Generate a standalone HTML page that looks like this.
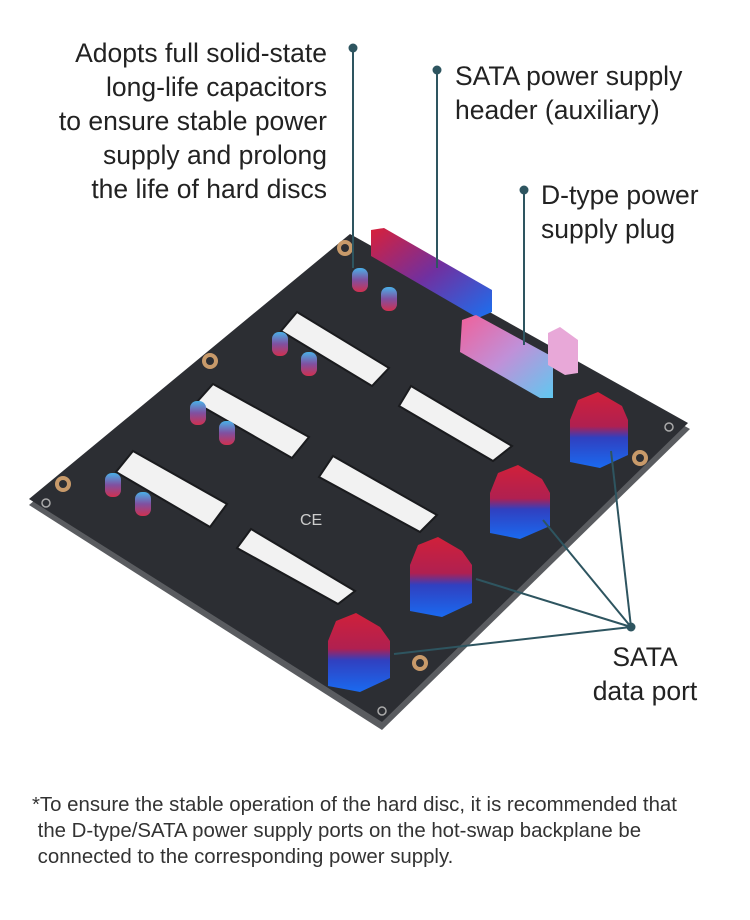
<!DOCTYPE html>
<html><head><meta charset="utf-8"><style>
html,body{margin:0;padding:0;background:#fff;}
body{width:750px;height:920px;position:relative;overflow:hidden;font-family:"Liberation Sans",sans-serif;}
.t{position:absolute;color:#222;font-size:26.5px;line-height:34px;white-space:nowrap;}
.fn{position:absolute;left:32px;top:792px;color:#333;font-size:20.4px;line-height:26px;white-space:nowrap;}
</style></head><body>
<svg width="750" height="920" style="position:absolute;left:0;top:0">
<defs>
<linearGradient id="rb" x1="0" y1="0" x2="0" y2="1"><stop offset="0" stop-color="#d0203a"/><stop offset="0.45" stop-color="#b02050"/><stop offset="0.6" stop-color="#3040c0"/><stop offset="1" stop-color="#1a6af0"/></linearGradient>
<linearGradient id="ph" x1="0" y1="0" x2="1" y2="1"><stop offset="0" stop-color="#d8203a"/><stop offset="0.5" stop-color="#7030a0"/><stop offset="1" stop-color="#1a70f0"/></linearGradient>
<linearGradient id="mx" x1="0" y1="0" x2="1" y2="1"><stop offset="0" stop-color="#f0609a"/><stop offset="0.5" stop-color="#c090d8"/><stop offset="1" stop-color="#60c8f0"/></linearGradient>
<linearGradient id="cap" x1="0" y1="0" x2="0" y2="1"><stop offset="0" stop-color="#4ab0e8"/><stop offset="0.5" stop-color="#8050a0"/><stop offset="1" stop-color="#d03050"/></linearGradient>
</defs>
<polygon points="350,240 690,429 382,730 29,505" fill="#5a5c60"/>
<polygon points="350,234 688,423 382,722 29,499" fill="#2c2e33"/>
<g fill="#f2f2f2" stroke="#1a1b1e" stroke-width="2">
<polygon points="297,312 389,368 372,386 281,331"/>
<polygon points="213,384 309,437 292,458 196,403"/>
<polygon points="133,451 227,504 210,527 116,472"/>
<polygon points="411,386 512,446 493,461 399,406"/>
<polygon points="333,456 437,515 420,532 319,477"/>
<polygon points="251,529 355,591 338,604 237,548"/>
</g>
<g fill="#c89a6a"><circle cx="345" cy="248" r="8"/><circle cx="210" cy="361" r="8"/><circle cx="63" cy="484" r="8"/><circle cx="640" cy="458" r="8"/><circle cx="420" cy="663" r="8"/></g>
<g fill="#2c2e33"><circle cx="345" cy="248" r="4"/><circle cx="210" cy="361" r="4"/><circle cx="63" cy="484" r="4"/><circle cx="640" cy="458" r="4"/><circle cx="420" cy="663" r="4"/></g>
<g fill="none" stroke="#aaa" stroke-width="1.5"><circle cx="669" cy="427" r="4"/><circle cx="46" cy="503" r="4"/><circle cx="382" cy="711" r="4"/></g>
<text x="300" y="525" fill="#ccc" font-size="16">CE</text>
<g fill="url(#cap)">
<rect x="352" y="268" width="16" height="24" rx="7"/><rect x="381" y="287" width="16" height="24" rx="7"/>
<rect x="272" y="332" width="16" height="24" rx="7"/><rect x="301" y="352" width="16" height="24" rx="7"/>
<rect x="190" y="401" width="16" height="24" rx="7"/><rect x="219" y="421" width="16" height="24" rx="7"/>
<rect x="105" y="473" width="16" height="24" rx="7"/><rect x="135" y="492" width="16" height="24" rx="7"/>
</g>
<polygon points="371,230 384,228 492,290 492,312 478,318 371,256" fill="url(#ph)"/>
<polygon points="462,320 476,315 553,357 553,398 540,398 460,352" fill="url(#mx)"/>
<polygon points="548,333 560,327 578,340 578,373 565,375 548,365" fill="#e8a8d8"/>
<g fill="url(#rb)">
<polygon points="578,400 598,392 622,406 628,420 628,455 600,468 570,462 570,420"/>
<polygon points="498,473 518,465 542,479 550,493 550,526 520,539 490,533 490,493"/>
<polygon points="418,545 438,537 462,551 472,565 472,603 442,617 410,611 410,565"/>
<polygon points="336,621 356,613 380,627 390,641 390,678 360,692 328,686 328,641"/>
</g>
<g stroke="#2e5560" stroke-width="2" fill="none">
<line x1="353" y1="48" x2="353" y2="268"/>
<line x1="437" y1="70" x2="437" y2="268"/>
<line x1="524" y1="190" x2="524" y2="345"/>
<line x1="631" y1="627" x2="611" y2="451"/>
<line x1="631" y1="627" x2="543" y2="520"/>
<line x1="631" y1="627" x2="476" y2="579"/>
<line x1="631" y1="627" x2="394" y2="654"/>
</g>
<g fill="#2e5560"><circle cx="353" cy="48" r="4.5"/><circle cx="437" cy="70" r="4.5"/><circle cx="524" cy="190" r="4.5"/><circle cx="631" cy="627" r="4.5"/></g>
</svg>
<div class="t" style="right:423px;top:36px;text-align:right">Adopts full solid-state<br>long-life capacitors<br>to ensure stable power<br>supply and prolong<br>the life of hard discs</div>
<div class="t" style="left:455px;top:59px">SATA power supply<br>header (auxiliary)</div>
<div class="t" style="left:541px;top:178px">D-type power<br>supply plug</div>
<div class="t" style="left:580px;top:640px;text-align:center;width:130px">SATA<br>data port</div>
<div class="fn">*To ensure the stable operation of the hard disc, it is recommended that<br>&nbsp;the D-type/SATA power supply ports on the hot-swap backplane be<br>&nbsp;connected to the corresponding power supply.</div>
</body></html>
